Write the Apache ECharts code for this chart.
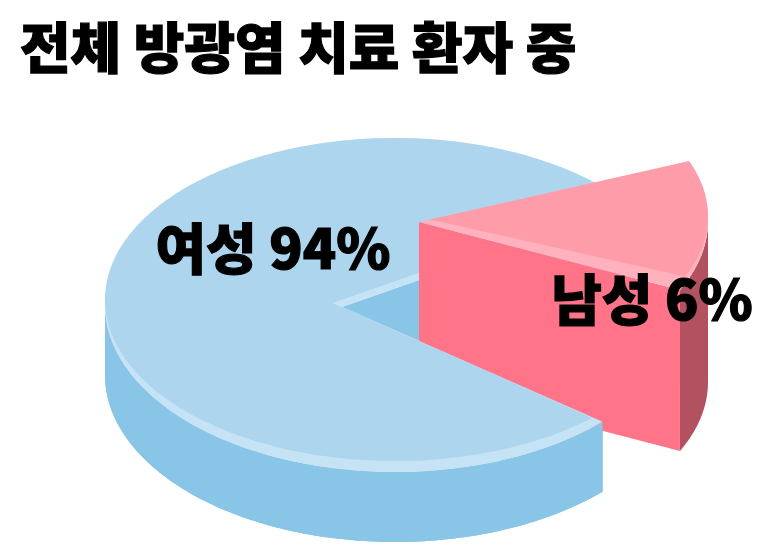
<!DOCTYPE html>
<html>
<head>
<meta charset="utf-8">
<style>html,body{margin:0;padding:0;background:#fff}#c{width:761px;height:557px}</style>
<script src="https://cdn.jsdelivr.net/npm/echarts@6/dist/echarts.min.js"></script>
</head>
<body>
<div id="c"></div>
<script>
const titleText = '전체 방광염 치료 환자 중';
const categories = ['여성', '남성'];
const shareValues = [94, 6];
// The picture's slices are stylised: their drawn sweep is not proportional to the share.
const drawnArcDegrees = [
  [44.3, 322.3],
  [-20.8, 25.4]
];
const labelCenters = [[273, 248], [652, 299]];

const FONT = '"Noto Sans CJK KR","Noto Sans CJK SC",sans-serif';
const BLUE = {
  cx: 395, cy: 305, rx: 290, ry: 167, depth: 70,
  faceCy: 299.5, faceRy: 161.5, faceArc: [47.2, 322.5],
  apexRim: [333, 303], apexFace: [342, 307],
  face: '#ADD6EE', rim: '#C6E3F5', side: '#88C5E6'
};
const PINK = {
  cx: 418, cy: 221, rx: 290, ry: 161, depth: 161,
  faceCy: 216, faceRy: 155, faceEnd: 23,
  apex: [419, 222], apexFace: [430, 219.5],
  face: '#FF9CA9', rim: '#FFB1BD', front: '#FF7488', side: '#B25260'
};

function arc(cx, cy, rx, ry, from, to) {
  const pts = [];
  const steps = Math.max(2, Math.ceil(Math.abs(to - from)));
  for (let i = 0; i <= steps; i++) {
    const t = (from + (to - from) * i / steps) * Math.PI / 180;
    pts.push([cx + rx * Math.cos(t), cy + ry * Math.sin(t)]);
  }
  return pts;
}
const poly = (points, fill) => ({ type: 'polygon', shape: { points }, style: { fill } });

function blueLayer(from, to) {
  const B = BLUE;
  const faceFrom = B.faceArc[0];
  const rimArc = arc(B.cx, B.cy, B.rx, B.ry, from, to);
  const sideEnd = Math.min(to, 180);
  const sideTop = arc(B.cx, B.cy, B.rx, B.ry, from, sideEnd);
  const sideBottom = arc(B.cx, B.cy + B.depth, B.rx, B.ry, sideEnd, from);
  const children = [poly(sideTop.concat(sideBottom), B.side)];
  children.push(poly(rimArc.concat([B.apexFace]), B.rim));
  const faceTo = to > 180 ? B.faceArc[1] : to;
  const faceArc = arc(B.cx, B.faceCy, B.rx, B.faceRy, faceFrom, faceTo);
  const tail = to > 180 ? [B.apexRim, B.apexFace] : [B.apexFace];
  children.push(poly(faceArc.concat(tail), B.face));
  return children;
}

function renderBack(params, api) {
  const idx = api.value(2);
  const arcDeg = drawnArcDegrees[idx];
  const B = BLUE;
  const children = blueLayer(arcDeg[0], arcDeg[1]);
  const upper = arc(B.cx, B.cy, B.rx, B.ry, arcDeg[1], arcDeg[1]);
  const notch = poly([B.apexFace, [419, 280], upper[0], arc(B.cx, B.cy, B.rx, B.ry, arcDeg[0], arcDeg[0])[0]], B.side);
  const rimLine = poly([B.apexRim, [419, 273], [419, 280], B.apexFace], B.rim);
  children.push(notch, rimLine);
  return { type: 'group', children };
}

function renderPink(params, api) {
  const idx = api.value(2);
  const P = PINK;
  const a = drawnArcDegrees[idx];
  const sideTop = arc(P.cx, P.cy, P.rx, P.ry, a[1], 0);
  const sideBottom = arc(P.cx, P.cy + P.depth, P.rx, P.ry, 0, a[1]);
  const corner = arc(P.cx, P.cy, P.rx, P.ry, a[1], a[1])[0];
  const cornerLow = [corner[0], corner[1] + P.depth];
  const apexLow = [P.apex[0], P.apex[1] + P.depth];
  return { type: 'group', children: [
    poly([P.apex, corner, cornerLow, apexLow], P.front),
    poly(sideTop.concat(sideBottom), P.side),
    poly([P.apex].concat(arc(P.cx, P.cy, P.rx, P.ry, a[0], a[1])), P.rim),
    poly([P.apex].concat(arc(P.cx, P.faceCy, P.rx, P.faceRy, a[0], P.faceEnd), [P.apexFace]), P.face)
  ]};
}

function renderFront(params, api) {
  const idx = api.value(2);
  const a = drawnArcDegrees[idx];
  return { type: 'group', children: blueLayer(a[0], 180) };
}

function renderLabels(params, api) {
  const idx = api.value(2);
  const c = labelCenters[idx];
  return {
    type: 'text',
    style: {
      x: c[0], y: c[1],
      text: categories[idx] + ' ' + api.value(1) + '%',
      fill: '#000',
      stroke: '#000',
      lineWidth: 1.2,
      font: '900 55px ' + FONT,
      align: 'center', verticalAlign: 'middle'
    }
  };
}

const rows = categories.map((name, i) => [name, shareValues[i], i]);
const chart = echarts.init(document.getElementById('c'), null, { renderer: 'canvas' });
const custom = (name, renderItem, data) => ({
  type: 'custom', name, renderItem, data, coordinateSystem: 'none',
  silent: true, animation: false, dimensions: ['name', 'value', 'index']
});
chart.setOption({
  backgroundColor: '#fff',
  animation: false,
  title: {
    text: titleText, left: 15, top: 15,
    textStyle: {
      fontFamily: FONT, fontWeight: 900, fontSize: 55, color: '#000',
      textBorderColor: '#000', textBorderWidth: 1.2
    }
  },
  series: [
    custom(categories[0] + ' back', renderBack, [rows[0]]),
    custom(categories[1], renderPink, [rows[1]]),
    custom(categories[0], renderFront, [rows[0]]),
    custom('labels', renderLabels, rows)
  ]
});
</script>
</body>
</html>
